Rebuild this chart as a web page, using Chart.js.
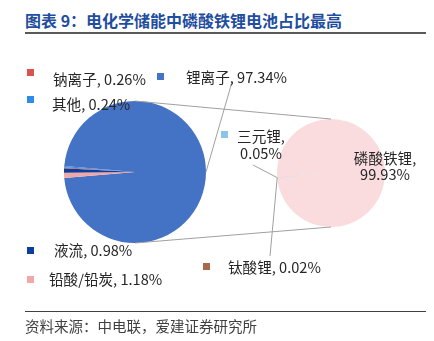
<!DOCTYPE html>
<html>
<head>
<meta charset="utf-8">
<script src="https://cdn.jsdelivr.net/npm/chart.js@4.4.1/dist/chart.umd.min.js"></script>
<style>
  body {
    margin: 0;
    width: 434px;
    height: 341px;
    background: #fff;
    position: relative;
    overflow: hidden;
    font-family: "Noto Sans CJK SC", sans-serif;
  }
  canvas { position: absolute; left: 0; top: 0; }
  .title {
    position: absolute; left: 25px; top: 8px;
    font-size: 16px; font-weight: bold; line-height: 24px;
    color: #1f4e9e; white-space: nowrap;
  }
  .rule-top { position: absolute; left: 25px; top: 32px; width: 401px; height: 2px; background: #5a5a5a; }
  .rule-bottom { position: absolute; left: 25px; top: 311px; width: 401px; height: 1px; background: #404040; }
  .source {
    position: absolute; left: 25px; top: 316px;
    font-size: 14.5px; line-height: 20px; color: #404040; white-space: nowrap;
  }
</style>
</head>
<body>
<div class="title">图表 9：电化学储能中磷酸铁锂电池占比最高</div>
<div class="rule-top"></div>
<canvas id="mainPie" width="434" height="341"></canvas>
<canvas id="subPie" width="434" height="341"></canvas>
<div class="rule-bottom"></div>
<div class="source">资料来源：中电联，爱建证券研究所</div>

<script>
// storage technologies (share of installed capacity, %)
const mainLabels = ['锂离子', '铅酸/铅炭', '液流', '钠离子', '其他'];
const mainValues = [97.34, 1.18, 0.98, 0.26, 0.24];
const mainColors = ['#4472c4', '#f4a7a7', '#0b3f9e', '#d9534f', '#2d8ce8'];

// breakdown of the lithium-ion slice (%)
const subLabels = ['磷酸铁锂', '钛酸锂', '三元锂'];
const subValues = [99.93, 0.02, 0.05];
const subColors = ['#fbdcde', '#a8694e', '#8cc5ec'];

// where each data label sits
const labelSpots = {
  '钠离子':   { box: [27, 69],  text: [53, 79] },
  '其他':     { box: [27, 96],  text: [52, 104] },
  '锂离子':   { box: [157, 73], text: [186, 77], leader: [232, 82] },
  '液流':     { box: [27, 247], text: [54, 250] },
  '铅酸/铅炭': { box: [27, 276], text: [49, 279] },
  '三元锂':   { box: [221, 131], text: [261, 136], split: 17, leader: [253, 165] },
  '钛酸锂':   { box: [203, 263], text: [228, 267], leader: [270, 256] },
  '磷酸铁锂': { text: [385, 158], split: 16 }
};

const total = (arr) => arr.reduce((a, b) => a + b, 0);

// rotate so the first slice is centred on the given angle (degrees, 0 = 3 o'clock)
const rotationFor = (values, centerDeg) => 90 + centerDeg - (values[0] / total(values)) * 180;

const pieOptions = (rotation, padding) => ({
  responsive: false,
  animation: false,
  events: [],
  rotation,
  layout: { padding },
  plugins: { legend: { display: false }, tooltip: { enabled: false } }
});

const mainChart = new Chart(document.getElementById('mainPie'), {
  type: 'pie',
  data: {
    labels: mainLabels,
    datasets: [{ data: mainValues, backgroundColor: mainColors, borderWidth: 0 }]
  },
  options: pieOptions(rotationFor(mainValues, 0), { left: 64, right: 228, top: 101, bottom: 98 })
});

function edgePoint(arc) {
  const mid = (arc.startAngle + arc.endAngle) / 2;
  return [arc.x + Math.cos(mid) * arc.outerRadius, arc.y + Math.sin(mid) * arc.outerRadius];
}

function line(ctx, a, b) {
  ctx.beginPath();
  ctx.moveTo(a[0], a[1]);
  ctx.lineTo(b[0], b[1]);
  ctx.stroke();
}

function drawLabel(ctx, name, value, color) {
  const spot = labelSpots[name];
  if (spot.box) {
    ctx.fillStyle = color;
    ctx.fillRect(spot.box[0], spot.box[1], 7, 7);
  }
  ctx.fillStyle = '#262626';
  ctx.font = '14.6px "Noto Sans CJK SC", sans-serif';
  ctx.textBaseline = 'middle';
  const pct = value.toFixed(2) + '%';
  if (spot.split) {
    ctx.textAlign = 'center';
    ctx.fillText(name + ',', spot.text[0], spot.text[1]);
    ctx.fillText(pct, spot.text[0], spot.text[1] + spot.split);
  } else {
    ctx.textAlign = 'left';
    ctx.fillText(name + ', ' + pct, spot.text[0], spot.text[1]);
  }
}

const pieOfPie = {
  id: 'pieOfPie',
  afterDatasetsDraw(chart) {
    const ctx = chart.ctx;
    const big = mainChart.getDatasetMeta(0).data;
    const small = chart.getDatasetMeta(0).data;
    const b = big[0], s = small[0];

    ctx.save();
    ctx.strokeStyle = '#a0a0a0';
    ctx.lineWidth = 1;

    // series lines joining the two pies
    line(ctx, [b.x, b.y - b.outerRadius], [s.x, s.y - s.outerRadius]);
    line(ctx, [b.x, b.y + b.outerRadius], [s.x, s.y + s.outerRadius]);

    // leader lines
    line(ctx, labelSpots['锂离子'].leader, edgePoint(b));
    line(ctx, labelSpots['三元锂'].leader, edgePoint(small[2]));
    line(ctx, labelSpots['钛酸锂'].leader, edgePoint(small[1]));

    mainLabels.forEach((name, i) => drawLabel(ctx, name, mainValues[i], mainColors[i]));
    subLabels.forEach((name, i) => drawLabel(ctx, name, subValues[i], subColors[i]));
    ctx.restore();
  }
};

new Chart(document.getElementById('subPie'), {
  type: 'pie',
  data: {
    labels: subLabels,
    datasets: [{ data: subValues, backgroundColor: subColors, borderWidth: 0 }]
  },
  options: pieOptions(rotationFor(subValues, -5), { left: 277, right: 49, top: 119, bottom: 114 }),
  plugins: [pieOfPie]
});
</script>
</body>
</html>
